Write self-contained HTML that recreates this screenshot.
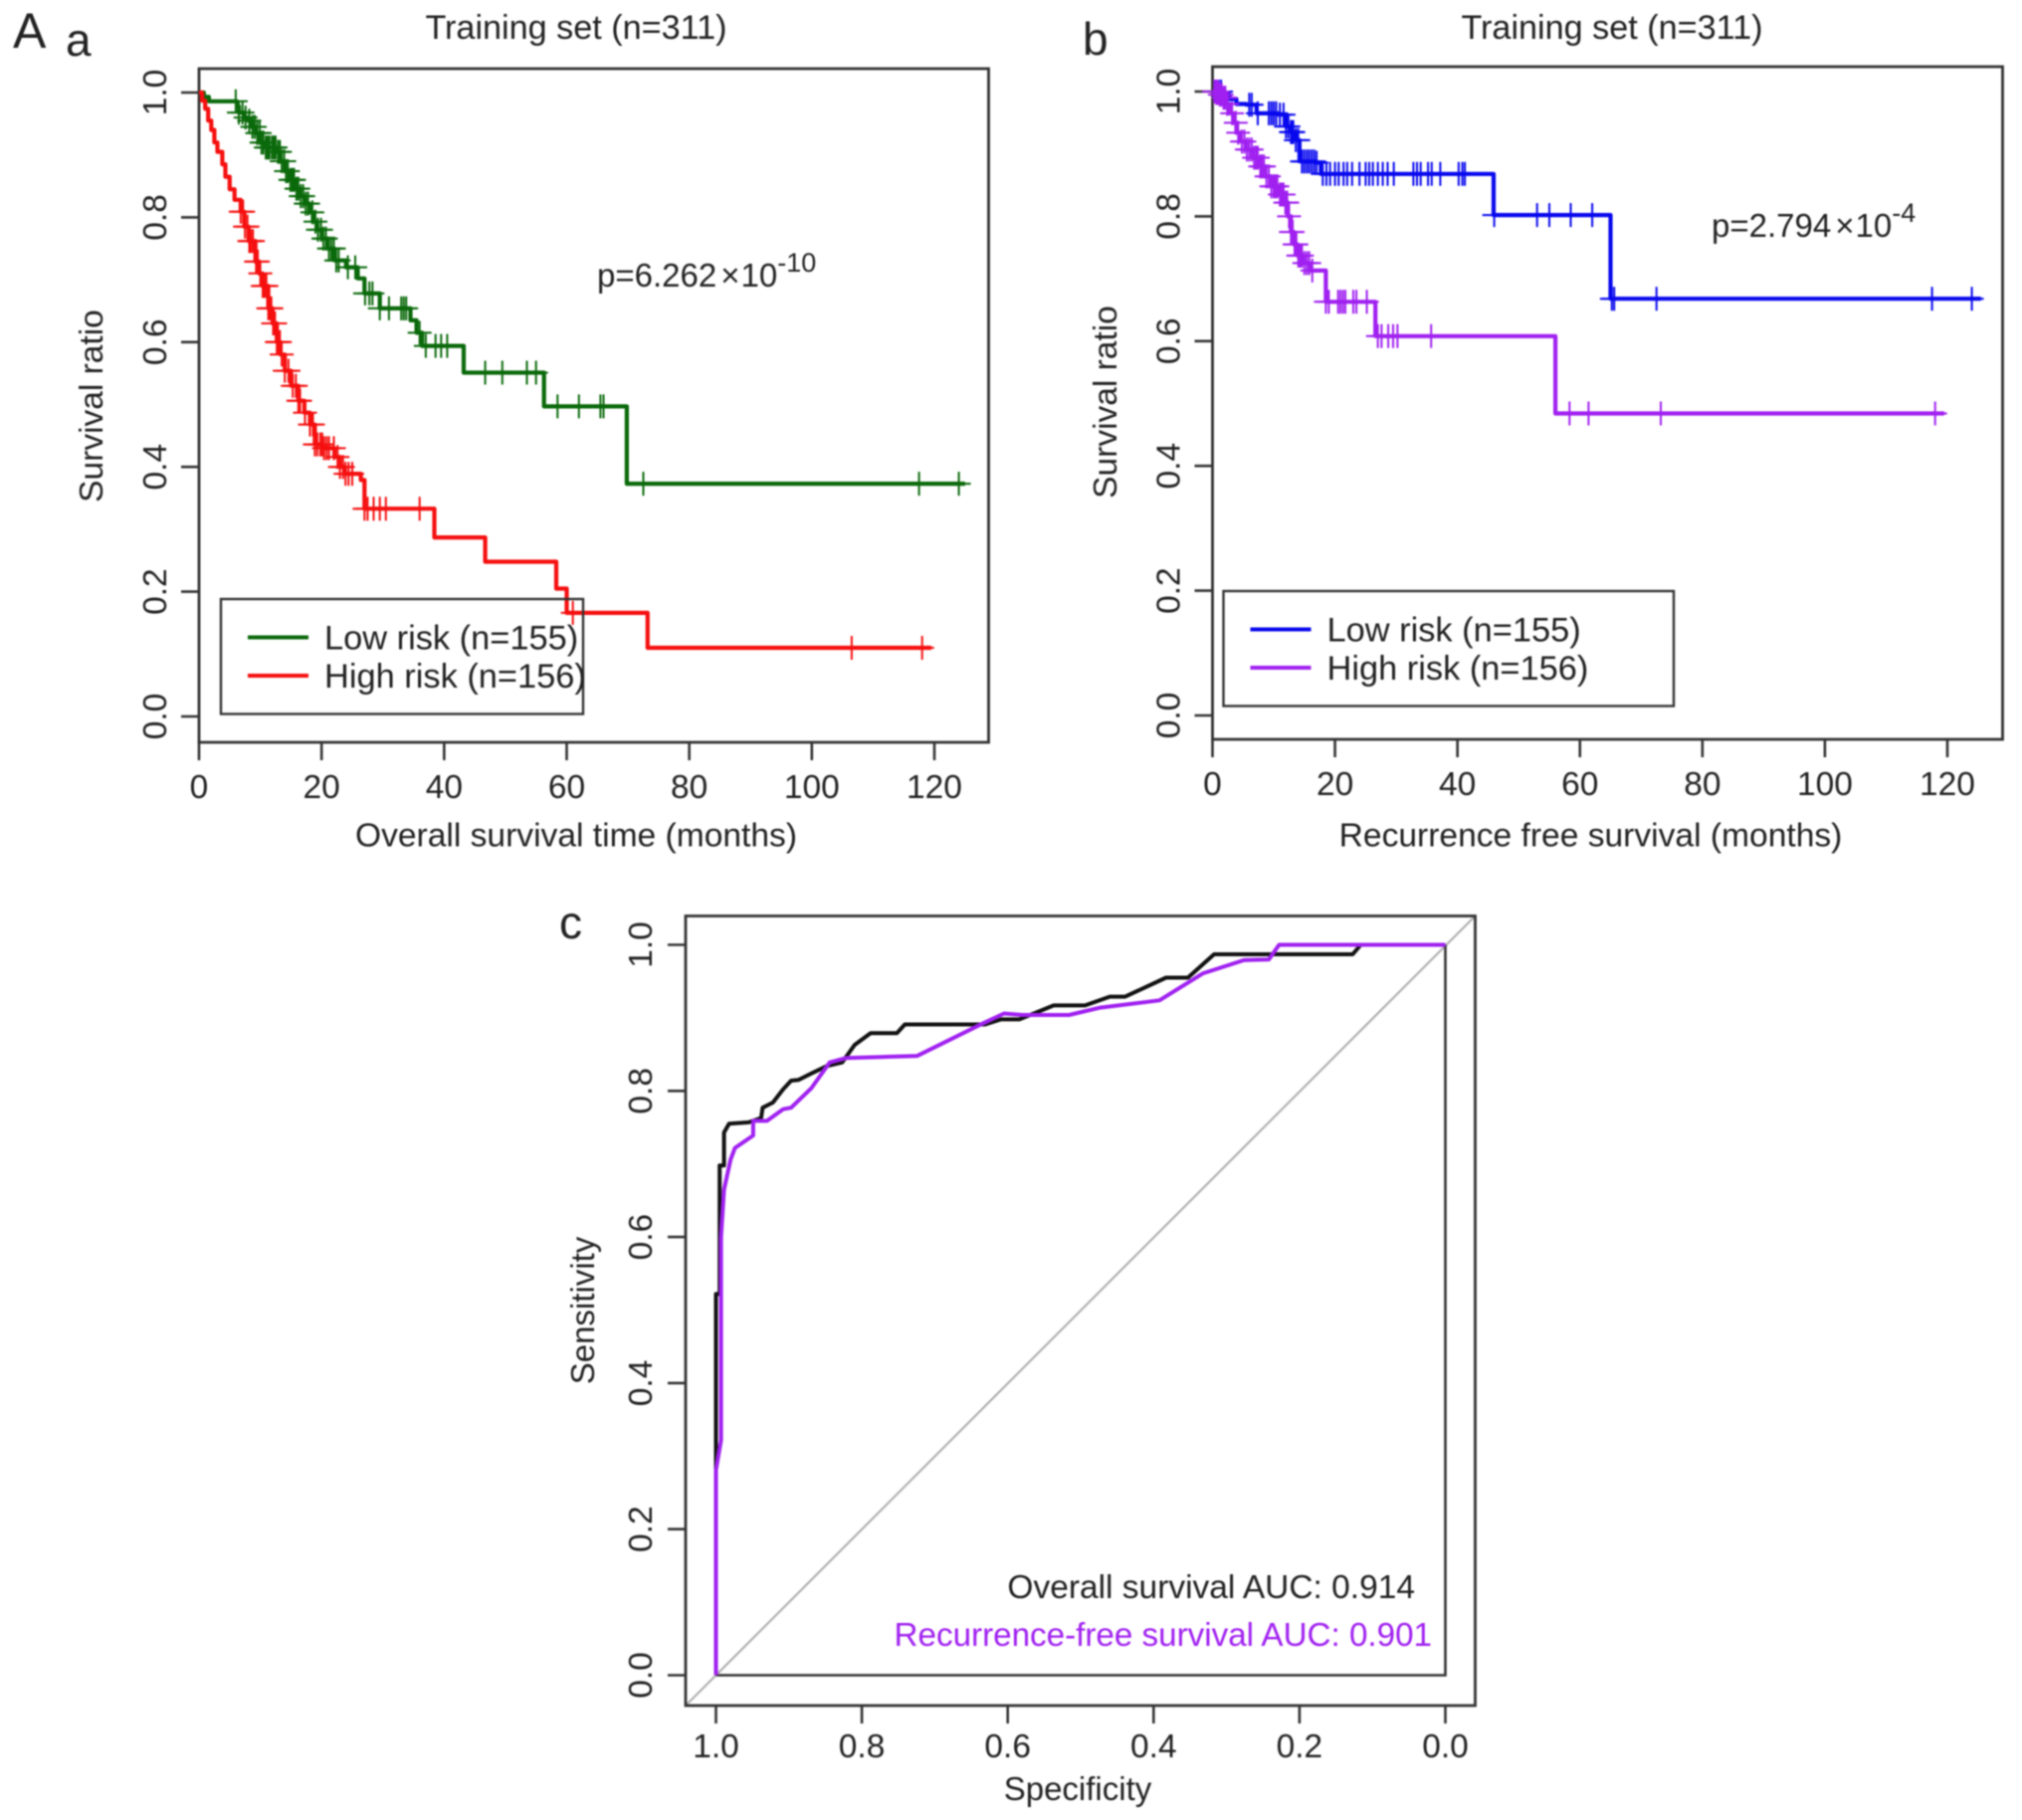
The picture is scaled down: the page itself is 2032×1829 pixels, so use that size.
<!DOCTYPE html>
<html>
<head>
<meta charset="utf-8">
<title>Survival and ROC curves</title>
<style>
html,body{margin:0;padding:0;background:#fff;width:2032px;height:1829px;overflow:hidden}
svg{display:block;filter:blur(0.7px)}
text{font-family:"Liberation Sans",Arial,sans-serif;fill:#222}
</style>
</head>
<body>
<svg id="figure" xmlns="http://www.w3.org/2000/svg" width="2032" height="1829" viewBox="0 0 2032 1829"></svg>
<script>
// ---------- Axis tick labels ----------
const kmXTicks = [0, 20, 40, 60, 80, 100, 120];
const kmYTicks = [0, 0.2, 0.4, 0.6, 0.8, 1];
const rocTicks = [0, 0.2, 0.4, 0.6, 0.8, 1];

// ---------- Panel a: overall survival ----------
const osLowTimes = [0, 0.8, 1.6, 6.2, 6.5, 7.4, 8, 8.6, 9.2, 10, 10.8, 12.6, 13.3, 14, 14.8, 15.7, 16.5, 17.3, 18, 18.6, 19.3, 20, 21, 22.1, 24, 25.9, 27, 29.5, 34.5, 35.5, 36.4, 43.2, 56.3, 69.8];
const osLowSurv = [1, 0.993, 0.986, 0.978, 0.968, 0.96, 0.955, 0.945, 0.935, 0.92, 0.912, 0.905, 0.89, 0.874, 0.86, 0.846, 0.834, 0.822, 0.808, 0.793, 0.78, 0.766, 0.75, 0.731, 0.72, 0.702, 0.678, 0.654, 0.635, 0.615, 0.594, 0.551, 0.497, 0.373];
const osLowEnd = 125;
const osLowCensor = [6, 6.5, 7.1, 7.6, 8.2, 8.7, 9.1, 9.5, 9.9, 10.2, 10.5, 10.9, 11.2, 11.5, 11.9, 12.2, 12.5, 12.9, 13.2, 13.5, 13.9, 14.2, 14.5, 14.9, 15.2, 15.5, 15.9, 16.2, 16.6, 17, 17.4, 17.8, 18.5, 19, 19.4, 19.9, 20.3, 20.7, 21.2, 21.6, 22, 22.4, 22.8, 24.3, 25.5, 27.1, 27.8, 28.3, 29.5, 31, 33, 33.4, 33.8, 36, 37, 38.6, 39.5, 40.5, 46.7, 49.5, 53.5, 55, 58.5, 62, 65.5, 66, 72.5, 117.5, 124];

const osHighTimes = [0, 0.5, 1, 1.5, 2, 2.5, 3, 3.8, 4.3, 5, 5.8, 6.8, 7.4, 8.1, 9.2, 9.8, 10.4, 11.3, 12, 12.7, 13.3, 14, 15, 16.2, 17.2, 18.1, 18.9, 20.2, 22.1, 23, 23.8, 26.4, 27, 38.4, 46.7, 58.3, 60, 73.2];
const osHighSurv = [1, 0.987, 0.974, 0.955, 0.94, 0.92, 0.905, 0.885, 0.865, 0.845, 0.828, 0.809, 0.785, 0.762, 0.729, 0.71, 0.69, 0.654, 0.63, 0.6, 0.58, 0.554, 0.53, 0.506, 0.487, 0.468, 0.436, 0.43, 0.416, 0.4, 0.389, 0.379, 0.333, 0.287, 0.248, 0.205, 0.166, 0.11];
const osHighEnd = 119.5;
const osHighCensor = [6.8, 7.2, 7.5, 7.9, 8.2, 8.5, 8.8, 9.3, 9.6, 10, 10.4, 10.7, 11, 11.3, 11.6, 11.8, 12.1, 12.4, 12.7, 12.9, 13.2, 13.5, 14, 14.6, 15.3, 15.8, 16.2, 16.5, 17.3, 18.1, 18.6, 18.9, 19.3, 19.8, 20.1, 20.4, 20.8, 21.2, 22, 22.6, 23, 23.5, 23.9, 24.4, 25, 27, 27.5, 28.5, 29.5, 30.5, 36, 61, 106.5, 118];

// ---------- Panel b: recurrence free survival ----------
const rfsLowTimes = [0, 1.5, 2.8, 3.9, 5.5, 7.2, 10.7, 12, 12.8, 13.6, 14.2, 16.9, 17.7, 45.9, 65];
const rfsLowSurv = [1, 0.995, 0.988, 0.98, 0.979, 0.965, 0.963, 0.944, 0.935, 0.922, 0.888, 0.886, 0.868, 0.802, 0.668];
const rfsLowEnd = 125.5;
const rfsLowCensor = [0.5, 1, 1.4, 6, 6.4, 7.4, 9.2, 9.6, 10, 10.4, 11, 11.6, 12, 12.4, 12.8, 13, 13.2, 13.6, 14, 14.6, 15, 15.4, 15.8, 16.2, 16.6, 17, 18, 18.6, 19.2, 20, 20.6, 21.4, 22, 22.8, 24, 25, 25.6, 26.2, 27, 27.8, 28.6, 29.6, 32.8, 33.4, 34, 35.2, 35.8, 37.2, 40.2, 40.8, 41.2, 46, 53, 55, 58.5, 62, 65.2, 65.6, 72.5, 117.5, 124];

const rfsHighTimes = [0, 1, 1.6, 2.3, 2.8, 3.4, 3.9, 4.6, 5.5, 6.5, 7.7, 8.6, 9.6, 10.8, 11.8, 12.3, 12.8, 13.3, 13.9, 14.9, 15.9, 18.5, 26.6, 56];
const rfsHighSurv = [1, 0.995, 0.99, 0.98, 0.965, 0.95, 0.934, 0.92, 0.907, 0.894, 0.88, 0.864, 0.848, 0.835, 0.822, 0.8, 0.775, 0.755, 0.737, 0.725, 0.713, 0.663, 0.608, 0.484];
const rfsHighEnd = 119.5;
const rfsHighCensor = [0.3, 0.6, 0.9, 1.2, 1.5, 1.8, 2.1, 2.4, 3.2, 3.8, 4.2, 4.8, 5.2, 5.6, 6, 6.4, 6.8, 7.1, 7.4, 7.8, 8.1, 8.4, 8.8, 9.2, 9.6, 10, 10.3, 10.6, 11, 11.3, 11.6, 11.9, 12.2, 12.5, 12.8, 13.1, 13.4, 13.7, 14, 14.3, 14.6, 15, 15.4, 15.8, 16.3, 18.5, 19, 20.5, 20.9, 21.3, 21.7, 23, 23.5, 25.2, 27, 27.6, 28.7, 29.5, 30.2, 35.7, 58.3, 61.4, 73.2, 118];

// ---------- Panel c: ROC curves ----------
const rocOsSpec = [1, 1, 0.995, 0.995, 0.989, 0.989, 0.982, 0.955, 0.938, 0.936, 0.922, 0.908, 0.897, 0.887, 0.869, 0.848, 0.827, 0.81, 0.788, 0.752, 0.741, 0.631, 0.609, 0.584, 0.537, 0.494, 0.46, 0.439, 0.383, 0.353, 0.317, 0.127, 0.116, 0];
const rocOsSens = [0, 0.522, 0.522, 0.698, 0.698, 0.743, 0.755, 0.757, 0.763, 0.777, 0.784, 0.802, 0.814, 0.815, 0.824, 0.834, 0.839, 0.863, 0.879, 0.879, 0.891, 0.891, 0.898, 0.898, 0.917, 0.917, 0.929, 0.929, 0.955, 0.955, 0.987, 0.987, 1, 1];
const rocRfsSpec = [1, 1, 0.993, 0.993, 0.989, 0.98, 0.974, 0.949, 0.949, 0.93, 0.908, 0.897, 0.869, 0.844, 0.822, 0.724, 0.635, 0.605, 0.58, 0.516, 0.473, 0.392, 0.332, 0.276, 0.242, 0.228, 0];
const rocRfsSens = [0, 0.281, 0.322, 0.6, 0.665, 0.706, 0.722, 0.739, 0.759, 0.759, 0.775, 0.777, 0.804, 0.839, 0.845, 0.848, 0.892, 0.906, 0.904, 0.904, 0.914, 0.924, 0.961, 0.979, 0.98, 1, 1];

// ---------- Rendering ----------
const NS = 'http://www.w3.org/2000/svg';
const svg = document.getElementById('figure');
const INK = '#333';

function make(parent, tag, attrs, content) {
  const el = document.createElementNS(NS, tag);
  for (const k in attrs) el.setAttribute(k, attrs[k]);
  if (content !== undefined) el.textContent = content;
  parent.appendChild(el);
  return el;
}
function label(parent, name, x, y, str, size, opts) {
  const o = opts || {};
  const a = {x: x, y: y, 'font-size': size, 'text-anchor': o.anchor || 'middle'};
  if (o.rotate) a.transform = 'rotate(-90 ' + x + ' ' + y + ')';
  if (o.fill) a.style = 'fill:' + o.fill;
  const el = make(parent, 'text', a, str);
  
  
  return el;
}
function linear(d0, d1, r0, r1) {
  return function (v) { return r0 + (v - d0) / (d1 - d0) * (r1 - r0); };
}
function stepValue(times, surv, t) {
  let s = surv[0];
  for (let i = 0; i < times.length; i++) { if (times[i] <= t) s = surv[i]; }
  return s;
}
function stepPath(times, surv, end, sx, sy) {
  let d = 'M' + sx(times[0]) + ' ' + sy(surv[0]);
  for (let i = 1; i < times.length; i++) {
    d += 'H' + sx(times[i]).toFixed(1) + 'V' + sy(surv[i]).toFixed(1);
  }
  return d + 'H' + sx(end).toFixed(1);
}

function drawKm(cfg) {
  const g = make(svg, 'g', {});
  
  
  const sx = linear(0, 120, cfg.x0, cfg.x120);
  const sy = linear(0, 1, cfg.y0, cfg.y1);

  const box = make(g, 'rect', {x: cfg.left, y: cfg.top, width: cfg.right - cfg.left, height: cfg.bottom - cfg.top, fill: 'none', stroke: INK, 'stroke-width': 2.8});
  
  

  kmXTicks.forEach(function (t) {
    const tick = make(g, 'line', {x1: sx(t), x2: sx(t), y1: cfg.bottom, y2: cfg.bottom + 18, stroke: INK, 'stroke-width': 2.6});
    
    
    label(g, 'x-tick-label', sx(t), cfg.bottom + 56, String(t), 33.5);
  });
  kmYTicks.forEach(function (t) {
    const tick = make(g, 'line', {x1: cfg.left, x2: cfg.left - 18, y1: sy(t), y2: sy(t), stroke: INK, 'stroke-width': 2.6});
    
    
    label(g, 'y-tick-label', cfg.left - 33, sy(t), t.toFixed(1), 33.5, {rotate: true});
  });

  cfg.series.forEach(function (s) {
    const line = make(g, 'path', {d: stepPath(s.times, s.surv, s.end, sx, sy), fill: 'none', stroke: s.color, 'stroke-width': 4.2, 'stroke-linejoin': 'round'});
    
    
    s.censor.forEach(function (t) {
      const v = stepValue(s.times, s.surv, t);
      const mark = make(g, 'path', {d: 'M' + (sx(t) - 12).toFixed(1) + ' ' + sy(v).toFixed(1) + 'h24M' + sx(t).toFixed(1) + ' ' + (sy(v) - 12).toFixed(1) + 'v24', stroke: s.color, 'stroke-width': 2, fill: 'none'});
      
      
    });
  });

  label(g, 'chart-title', cfg.titleX, 39, 'Training set (n=311)', 34.2);
  label(g, 'x-axis-title', cfg.titleX + cfg.xLabelShift, 850.5, cfg.xLabel, 33.6);
  label(g, 'y-axis-title', cfg.yLabelX, cfg.yLabelY, 'Survival ratio', 33.5, {rotate: true});

  const lg = make(g, 'g', {});
  
  
  const lb = make(lg, 'rect', {x: cfg.lgX, y: cfg.lgY, width: cfg.lgW, height: 115.5, fill: 'none', stroke: INK, 'stroke-width': 2.4});
  
  
  cfg.series.forEach(function (s, i) {
    const ly = cfg.lgY + 38.5 + i * 38.5;
    const sw = make(lg, 'line', {x1: cfg.lgX + 27, x2: cfg.lgX + 88, y1: ly, y2: ly, stroke: s.color, 'stroke-width': 4});
    
    
    label(lg, 'legend-entry', cfg.lgX + 104, ly + 12, s.legend, 34.4, {anchor: 'start'});
  });

  const pT = make(g, 'text', {x: cfg.pX, y: cfg.pY, 'font-size': 33});
  
  
  make(pT, 'tspan', {}, cfg.pLead);
  make(pT, 'tspan', {dx: 4}, '\u00d7');
  make(pT, 'tspan', {dx: 1}, '10');
  make(pT, 'tspan', {dy: -15, 'font-size': 27}, cfg.pExp);
}

drawKm({
  id: 'overall-survival', left: 200, right: 993.5, top: 69, bottom: 746,
  x0: 200, x120: 939, y0: 720, y1: 93,
  titleX: 579, xLabelShift: 0, xLabel: 'Overall survival time (months)',
  yLabelX: 103, yLabelY: 408,
  lgX: 222, lgY: 602, lgW: 364,
  pX: 600, pY: 288, pLead: 'p=6.262', pExp: '-10',
  series: [
    {name: 'low-risk', color: '#0a690a', times: osLowTimes, surv: osLowSurv, end: osLowEnd, censor: osLowCensor, legend: 'Low risk (n=155)'},
    {name: 'high-risk', color: '#f50f0f', times: osHighTimes, surv: osHighSurv, end: osHighEnd, censor: osHighCensor, legend: 'High risk (n=156)'}
  ]
});

drawKm({
  id: 'recurrence-free', left: 1218.5, right: 2012.5, top: 67, bottom: 743,
  x0: 1218.5, x120: 1957, y0: 719, y1: 92,
  titleX: 1620, xLabelShift: -21.5, xLabel: 'Recurrence free survival (months)',
  yLabelX: 1122, yLabelY: 404,
  lgX: 1229.5, lgY: 594, lgW: 452.5,
  pX: 1720, pY: 238, pLead: 'p=2.794', pExp: '-4',
  series: [
    {name: 'low-risk', color: '#0808ee', times: rfsLowTimes, surv: rfsLowSurv, end: rfsLowEnd, censor: rfsLowCensor, legend: 'Low risk (n=155)'},
    {name: 'high-risk', color: '#a020f0', times: rfsHighTimes, surv: rfsHighSurv, end: rfsHighEnd, censor: rfsHighCensor, legend: 'High risk (n=156)'}
  ]
});

// ROC panel
const roc = make(svg, 'g', {});


const rx = linear(1, 0, 719.5, 1452.5);
const ry = linear(0, 1, 1683.5, 949.5);
const rocL = 689, rocR = 1482.5, rocT = 920.5, rocB = 1714;

const rocDiag = make(roc, 'line', {x1: rocL, y1: rocB, x2: rocR, y2: rocT, stroke: '#b0b0b0', 'stroke-width': 2.2});


const rocInner = make(roc, 'path', {d: 'M' + rx(1) + ' ' + ry(0) + 'H' + rx(0) + 'V' + ry(1), fill: 'none', stroke: INK, 'stroke-width': 2.6});


const rocBox = make(roc, 'rect', {x: rocL, y: rocT, width: rocR - rocL, height: rocB - rocT, fill: 'none', stroke: INK, 'stroke-width': 2.8});



rocTicks.forEach(function (t) {
  const xt = make(roc, 'line', {x1: rx(t), x2: rx(t), y1: rocB, y2: rocB + 18, stroke: INK, 'stroke-width': 2.6});
  
  
  label(roc, 'x-tick-label', rx(t), 1766, t.toFixed(1), 33.5);
  const yt = make(roc, 'line', {x1: rocL, x2: rocL - 18, y1: ry(t), y2: ry(t), stroke: INK, 'stroke-width': 2.6});
  
  
  label(roc, 'y-tick-label', 655, ry(t), t.toFixed(1), 33.5, {rotate: true});
});

function polyline(xs, ys) {
  return xs.map(function (v, i) { return rx(v).toFixed(1) + ',' + ry(ys[i]).toFixed(1); }).join(' ');
}
const rocOs = make(roc, 'polyline', {points: polyline(rocOsSpec, rocOsSens), fill: 'none', stroke: '#111', 'stroke-width': 4, 'stroke-linejoin': 'round'});


const rocRfs = make(roc, 'polyline', {points: polyline(rocRfsSpec, rocRfsSens), fill: 'none', stroke: '#a020f0', 'stroke-width': 4, 'stroke-linejoin': 'round'});



label(roc, 'x-axis-title', 1083, 1809, 'Specificity', 33);
label(roc, 'y-axis-title', 597, 1317, 'Sensitivity', 33, {rotate: true});
label(roc, 'overall-survival-auc', 1422, 1606, 'Overall survival AUC: 0.914', 33.5, {anchor: 'end'});
label(roc, 'recurrence-free-auc', 1439, 1654, 'Recurrence-free survival AUC: 0.901', 33.2, {anchor: 'end', fill: '#a020f0'});

// Panel letters
label(svg, 'figure-label-a-upper', 13, 48, 'A', 50, {anchor: 'start'});
label(svg, 'panel-label-a', 66, 56, 'a', 46, {anchor: 'start'});
label(svg, 'panel-label-b', 1088, 55, 'b', 46, {anchor: 'start'});
label(svg, 'panel-label-c', 562, 943, 'c', 46, {anchor: 'start'});
</script>
</body>
</html>
